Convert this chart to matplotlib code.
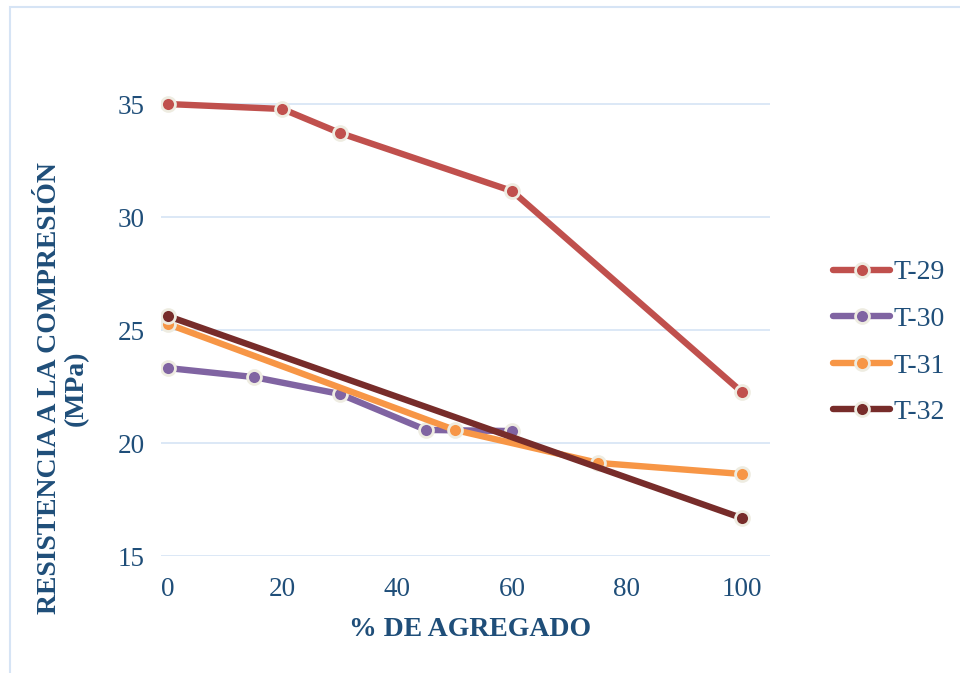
import matplotlib.pyplot as plt
from matplotlib.patches import Rectangle

plt.rcParams['font.family'] = ['Liberation Serif', 'DejaVu Serif']

x29 = [0, 20, 30, 60, 100]
y29 = [35.0, 34.78, 33.72, 31.15, 22.26]
x30 = [0, 15, 30, 45, 60]
y30 = [23.32, 22.92, 22.17, 20.58, 20.53]
x31 = [0, 50, 75, 100]
y31 = [25.27, 20.58, 19.12, 18.63]
x32 = [0, 100]
y32 = [25.62, 16.68]
names = ["T-29", "T-30", "T-31", "T-32"]

txt = '#1F4E79'
fig = plt.figure(figsize=(9.6, 6.73), dpi=100)
ax = fig.add_axes([0.168, 0.1738, 0.634, 0.7388])

series = [(x29, y29, '#C0504D'), (x30, y30, '#8064A2'),
          (x31, y31, '#F79646'), (x32, y32, '#772C2A')]
for (xs, ys, c), n in zip(series, names):
    ax.plot(xs, ys, '-o', color=c, lw=4.6, ms=10, mfc=c, mec='#EEECE1',
            mew=2, label=n, solid_capstyle='round')

ax.set_xlim(-1.1, 104.9)
ax.set_ylim(15, 37)
ax.set_xticks([0, 20, 40, 60, 80, 100])
ax.set_yticks([15, 20, 25, 30, 35])
ax.grid(axis='y', color='#D6E4F5', lw=1.2)
ax.set_axisbelow(True)
for s in ax.spines.values():
    s.set_visible(False)
ax.tick_params(length=0, labelsize=19.5, colors=txt)
ax.tick_params(axis='x', pad=15)
ax.tick_params(axis='y', pad=12)

fig.text(0.49, 0.064, "% DE AGREGADO", ha='center', va='center',
         fontsize=20, fontweight='bold', color=txt)
fig.text(0.066, 0.4235, "RESISTENCIA A LA COMPRESIÓN\n(MPa)", ha='center',
         va='center', rotation=90, fontsize=20, fontweight='bold',
         color=txt, linespacing=1.1)

leg = fig.legend(loc='center left', bbox_to_anchor=(0.868, 0.491),
                 frameon=False, fontsize=20, handlelength=2.05,
                 handletextpad=0.1, labelspacing=0.76, labelcolor=txt,
                 borderpad=0, borderaxespad=0)

fig.patches.append(Rectangle((0.0105, -0.1), 1.2, 1.089, transform=fig.transFigure,
                             fill=False, ec='#D6E4F5', lw=1.5))

fig.savefig("out.png", dpi=100)
